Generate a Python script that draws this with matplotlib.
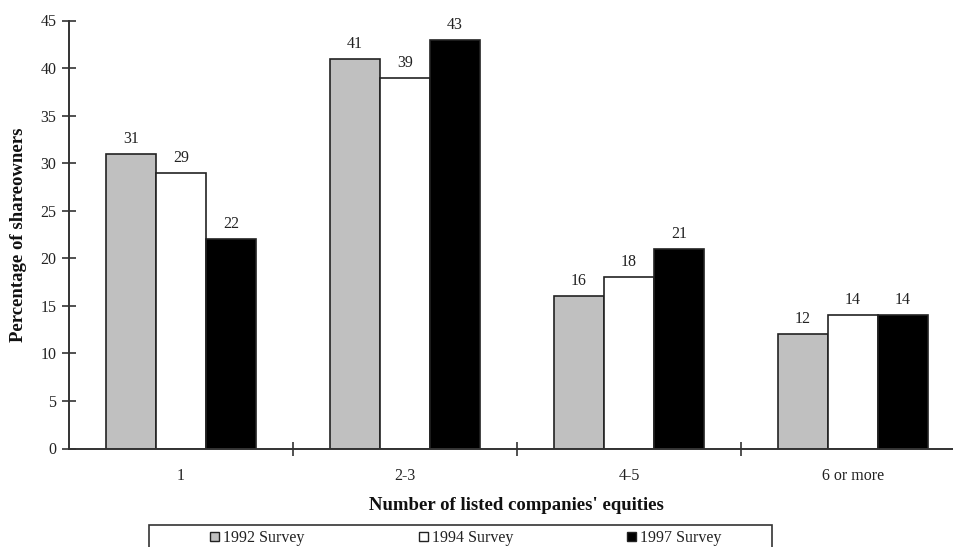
import matplotlib
matplotlib.use("Agg")
import matplotlib.pyplot as plt
from matplotlib.patches import Rectangle
import numpy as np

categories = ["1", "2-3", "4-5", "6 or more"]
series_names = ["1992 Survey", "1994 Survey", "1997 Survey"]
survey_1992 = [31, 41, 16, 12]
survey_1994 = [29, 39, 18, 14]
survey_1997 = [22, 43, 21, 14]
series_values = [survey_1992, survey_1994, survey_1997]
fill_colors = ["#c0c0c0", "#ffffff", "#000000"]

plt.rcParams["font.family"] = ["Liberation Serif", "DejaVu Serif"]

W, H = 954, 547
fig = plt.figure(figsize=(W / 100, H / 100), dpi=100)

left_px, right_px, top_px, base_px = 69, 954, 20.5, 448.5
ax = fig.add_axes([left_px / W, (H - base_px) / H,
                   (right_px - left_px) / W, (base_px - top_px) / H])

group_px = 224.0
bar_w = 50.0 / group_px
x = np.arange(len(categories))
offsets = [-bar_w, 0.0, bar_w]

for vals, off, col in zip(series_values, offsets, fill_colors):
    bars = ax.bar(x + off, vals, width=bar_w, color=col,
                  edgecolor="#222222", linewidth=1.2, zorder=2)
    for b, v in zip(bars, vals):
        ax.annotate(f"{v}", (b.get_x() + b.get_width() / 2, v),
                    xytext=(0, 5), textcoords="offset points",
                    ha="center", va="bottom", fontsize=11.5, color="#222222")

ax.set_xlim(-0.5, -0.5 + (right_px - left_px) / group_px)
ax.set_ylim(0, 45)
ax.set_yticks(np.arange(0, 46, 5))

# category labels sit between the boundary ticks
ax.set_xticks(np.arange(0.5, len(categories) - 0.5, 1.0))
ax.set_xticklabels([])
ax.set_xticks(x, minor=True)
ax.set_xticklabels(categories, minor=True)
ax.tick_params(axis="x", which="minor", length=0, pad=14, labelsize=11.5,
               labelcolor="#222222")
ax.tick_params(axis="x", which="major", direction="inout", length=10,
               width=1.2, color="#333333")
ax.tick_params(axis="y", direction="inout", length=10, width=1.2,
               color="#333333", labelsize=11.5, labelcolor="#222222", pad=4)

for side in ("top", "right"):
    ax.spines[side].set_visible(False)
for side in ("left", "bottom"):
    ax.spines[side].set_linewidth(1.4)
    ax.spines[side].set_color("#333333")
ax.patch.set_alpha(0)

ax.set_ylabel("Percentage of shareowners", fontsize=13.5, fontweight="bold",
              color="#111111")
ax.yaxis.set_label_coords(-42 / (right_px - left_px), 0.5)
fig.text((368 + 665) / 2 / W, 1 - 506 / H, "Number of listed companies' equities",
         ha="center", va="center", fontsize=13.5, fontweight="bold",
         color="#111111")

# legend box, running off the lower edge
box = Rectangle((149 / W, -0.05), (772 - 149) / W, (H - 525) / H + 0.05,
                transform=fig.transFigure, facecolor="white",
                edgecolor="#333333", linewidth=1.2, clip_on=False)
fig.patches.append(box)
marker_x = [210, 419, 627]
for name, col, mx in zip(series_names, fill_colors, marker_x):
    sq = Rectangle((mx / W, 1 - 541 / H), 9 / W, 9 / H,
                   transform=fig.transFigure, facecolor=col,
                   edgecolor="#222222", linewidth=1.0)
    fig.patches.append(sq)
    fig.text((mx + 13) / W, 1 - 542.5 / H, name, ha="left", va="baseline",
             fontsize=11.5, color="#222222")

fig.savefig("out.png", dpi=100)
